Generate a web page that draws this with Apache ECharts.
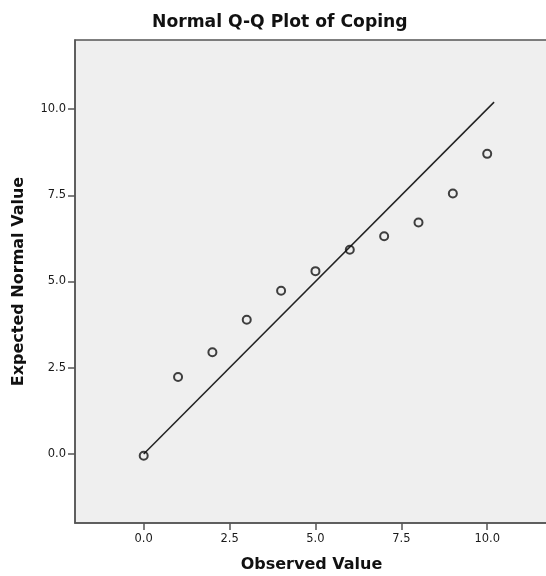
<!DOCTYPE html>
<html>
<head>
<meta charset="utf-8">
<script src="https://cdn.jsdelivr.net/npm/echarts@6/dist/echarts.min.js"></script>
<style>
html,body{margin:0;padding:0;background:#fff;}
#chart{width:546px;height:576px;}
</style>
</head>
<body>
<div id="chart"></div>
<script>
const observed = [0, 1, 2, 3, 4, 5, 6, 7, 8, 9, 10];
const expected = [-0.05, 2.23, 2.95, 3.89, 4.73, 5.30, 5.92, 6.31, 6.71, 7.55, 8.70];
const lineX = [0, 10.2];
const lineY = [0, 10.2];
const tickValues = [0, 2.5, 5, 7.5, 10];

const pts = observed.map((x, i) => [x, expected[i]]);
const linePts = lineX.map((x, i) => [x, lineY[i]]);

const chart = echarts.init(document.getElementById('chart'), null, {renderer: 'canvas'});
const axisCommon = {
  type: 'value',
  splitLine: {show: false},
  axisLine: {show: true, onZero: false, lineStyle: {color: '#555', width: 1.5}},
  axisTick: {show: true, length: 7, customValues: tickValues, lineStyle: {color: '#555', width: 1.5}},
  axisLabel: {customValues: tickValues, color: '#1a1a1a', fontSize: 11.5, fontFamily: 'DejaVu Sans',
    formatter: v => v.toFixed(1)},
  nameLocation: 'middle',
  nameTextStyle: {fontFamily: 'DejaVu Sans', fontWeight: 'bold', fontSize: 16, color: '#111'}
};
chart.setOption({
  animation: false,
  backgroundColor: '#fff',
  title: {
    text: 'Normal Q-Q Plot of Coping',
    left: 147, top: 9,
    textStyle: {fontFamily: 'DejaVu Sans', fontWeight: 'bold', fontSize: 17.2, color: '#111'}
  },
  grid: {left: 75, right: -2, top: 40, bottom: 53, show: true, outerBoundsMode: 'none',
    containLabel: false,
    backgroundColor: '#efefef', borderColor: '#555', borderWidth: 1.5},
  xAxis: Object.assign({}, axisCommon, {
    min: -2, max: 11.77, name: 'Observed Value', nameGap: 34,
    axisLabel: Object.assign({}, axisCommon.axisLabel, {margin: 10})
  }),
  yAxis: Object.assign({}, axisCommon, {
    min: -2, max: 12, name: 'Expected Normal Value', nameGap: 48, nameRotate: 90,
    axisLabel: Object.assign({}, axisCommon.axisLabel, {margin: 9})
  }),
  series: [
    {
      type: 'line', data: linePts, symbol: 'none',
      lineStyle: {color: '#222', width: 1.5}, z: 2
    },
    {
      type: 'scatter', data: pts, symbol: 'circle', symbolSize: 8,
      itemStyle: {color: 'rgba(0,0,0,0)', borderColor: '#111', borderWidth: 2}, z: 3
    }
  ]
});
</script>
</body>
</html>
